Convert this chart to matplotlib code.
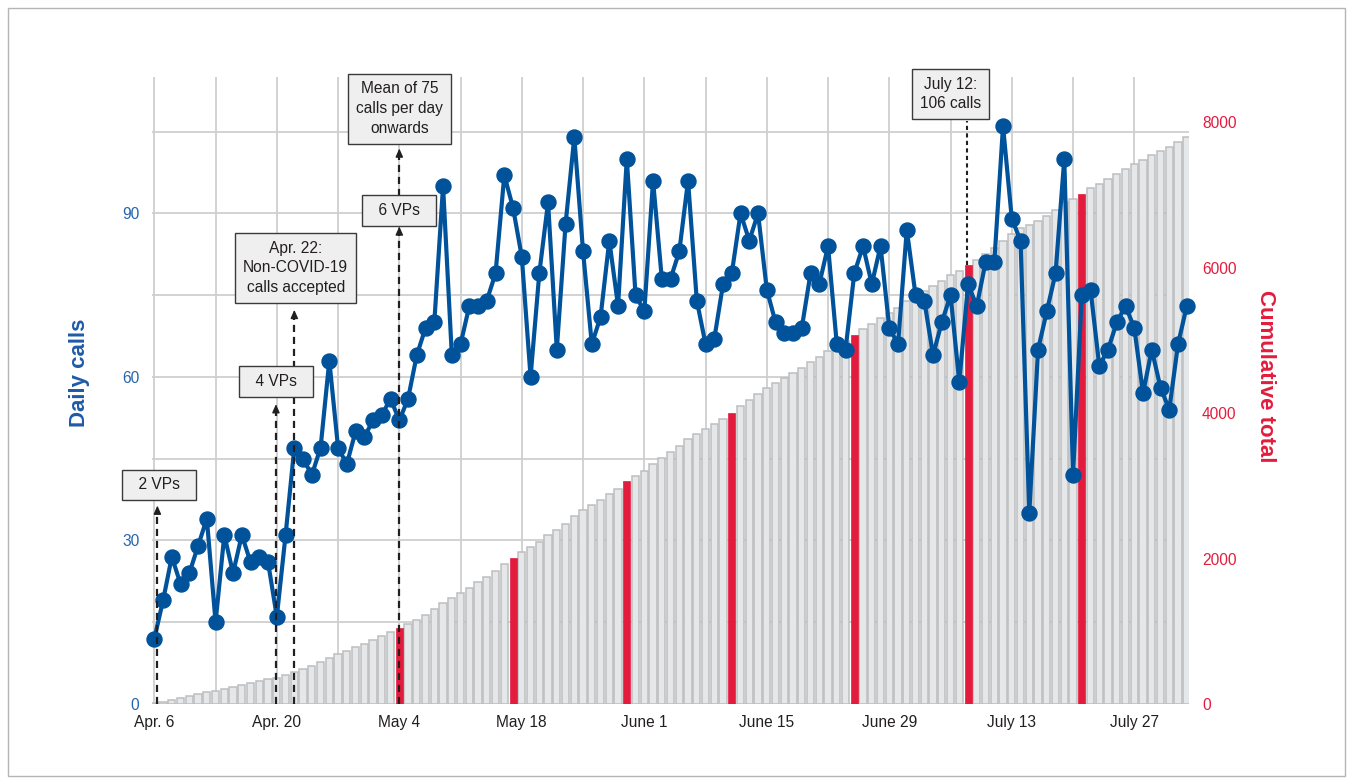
import matplotlib
matplotlib.use("Agg")
import matplotlib.pyplot as plt
import numpy as np
from matplotlib.patches import Rectangle

plt.rcParams["font.family"] = ["Liberation Sans", "DejaVu Sans"]

# daily calls, Apr. 6 onwards (one value per day)
daily_calls = [
    12, 19, 27, 22, 24, 29, 34, 15, 31, 24, 31, 26, 27, 26, 16, 31, 47, 45, 42, 47, 63, 47,
    44, 50, 49, 52, 53, 56, 52, 56, 64, 69, 70, 95, 64, 66, 73, 73, 74, 79, 97, 91,
    82, 60, 79, 92, 65, 88, 104, 83, 66, 71, 85, 73, 100,
    75, 72, 96, 78, 78, 83, 96, 74, 66, 67, 77, 79,
    90, 85, 90, 76, 70, 68, 68, 69, 79, 77, 84, 66, 65, 79,
    84, 77, 84, 69, 66, 87, 75, 74, 64, 70, 75, 59, 77,
    73, 81, 81, 106, 89, 85, 35, 65, 72, 79, 100, 42, 75,
    76, 62, 65, 70, 73, 69, 57, 65, 58, 54, 66, 73,
]
tick_days = [0, 14, 28, 42, 56, 70, 84, 98, 112]
tick_labels = ["Apr. 6", "Apr. 20", "May 4", "May 18", "June 1",
               "June 15", "June 29", "July 13", "July 27"]
left_ticks = [0, 30, 60, 90]
right_ticks = [0, 2000, 4000, 6000, 8000]

BLUE = "#00529b"
BLUE_TXT = "#2565ad"
RED = "#e31c3d"
INK = "#231f20"
GRID = "#cfcfcf"

day = np.arange(len(daily_calls))
cumulative = np.cumsum(daily_calls)
# bar where the running total first passes each thousand
milestone = np.diff(cumulative // 1000, prepend=0) > 0

fig = plt.figure(figsize=(13.53, 7.84), dpi=100)
fig.patches.append(Rectangle((8 / 1353, 8 / 784), 1337 / 1353, 768 / 784,
                             transform=fig.transFigure, fill=False,
                             edgecolor="#b5b5b5", linewidth=1))

ax = fig.add_axes([151.7 / 1353, 80 / 784, 1037.7 / 1353, 627 / 784])
ax2 = ax.twinx()

ax.set_xlim(-0.3, len(daily_calls) - 0.7)
ax.set_ylim(0, 115)
ax2.set_ylim(0, 8619)

# grid on the base axes so the bars cover it
ax.set_xticks(tick_days)
ax.set_xticks(np.arange(7, 113, 14), minor=True)
ax.set_xticklabels(tick_labels, fontsize=11.2, color=INK)
ax.set_yticks(left_ticks)
ax.set_yticks([15, 45, 75, 105], minor=True)
ax.set_yticklabels([str(t) for t in left_ticks], fontsize=11.2, color=BLUE_TXT)
ax.grid(True, which="both", color=GRID, linewidth=1.3)
ax.tick_params(which="both", length=0)
ax.tick_params(axis="x", pad=8)
ax.tick_params(axis="y", pad=9)
ax.set_axisbelow(True)

ax2.set_yticks(right_ticks)
ax2.set_yticklabels([str(t) for t in right_ticks], fontsize=11.2, color=RED)
ax2.tick_params(length=0, pad=9)

for a in (ax, ax2):
    for s in a.spines.values():
        s.set_visible(False)

ax2.bar(day[~milestone], cumulative[~milestone], width=0.82,
        color="#e6e7e8", edgecolor="#bcbec0", linewidth=1.1, zorder=1)
ax2.bar(day[milestone], cumulative[milestone], width=0.8,
        color=RED, edgecolor=RED, linewidth=0.5, zorder=1)

ax2.plot(day, daily_calls, color=BLUE, linewidth=3.0, marker="o",
         markersize=10.8, transform=ax.transData, zorder=3, clip_on=False)

ax.set_ylabel("Daily calls", fontsize=16, fontweight="bold", color="#1f5aa6")
ax.yaxis.set_label_coords(-0.0595, 0.528)
ax2.set_ylabel("Cumulative total", fontsize=16, fontweight="bold", color=RED,
               rotation=270, va="center")
ax2.yaxis.set_label_coords(1.0738, 0.523)

box = dict(boxstyle="square,pad=0.5", facecolor="#efefef", edgecolor="#3a3a3a",
           linewidth=1)

def note(text, x, y):
    ax2.text(x, y, text, transform=ax.transData, ha="center", va="center",
             fontsize=11.2, color=INK, linespacing=1.4, bbox=box, zorder=5)

def arrow(x, y0, y1):
    ax2.plot([x, x], [y0, y1 - 1.2], transform=ax.transData, color=INK,
             linestyle=(0, (3.2, 2.2)), linewidth=1.6, zorder=4, clip_on=False)
    ax2.annotate("", xy=(x, y1), xytext=(x, y1 - 1.5), xycoords=ax.transData,
                 textcoords=ax.transData, zorder=4,
                 arrowprops=dict(arrowstyle="-|>,head_length=0.5,head_width=0.22",
                                 color=INK, linewidth=1, shrinkA=0, shrinkB=0))

arrow(0.35, 0, 36.4)
arrow(13.9, 0, 55.0)
arrow(16.0, 0, 72.3)
arrow(28.0, 0, 87.6)
arrow(28.0, 93.2, 101.9)
ax2.plot([92.9, 92.9], [80.6, 107.0], transform=ax.transData, color=INK,
         linestyle=(0, (2, 1.6)), linewidth=1.5, zorder=4, clip_on=False)

note("  2 VPs  ", 0.54, 40.2)
note("  4 VPs  ", 13.9, 59.1)
note("Apr. 22:\nNon-COVID-19\ncalls accepted", 16.15, 80.0)
note("  6 VPs  ", 27.97, 90.5)
note("Mean of 75\ncalls per day\nonwards", 28.0, 109.2)
note("July 12:\n106 calls", 91.0, 111.9)

fig.savefig("out.png", dpi=100)
